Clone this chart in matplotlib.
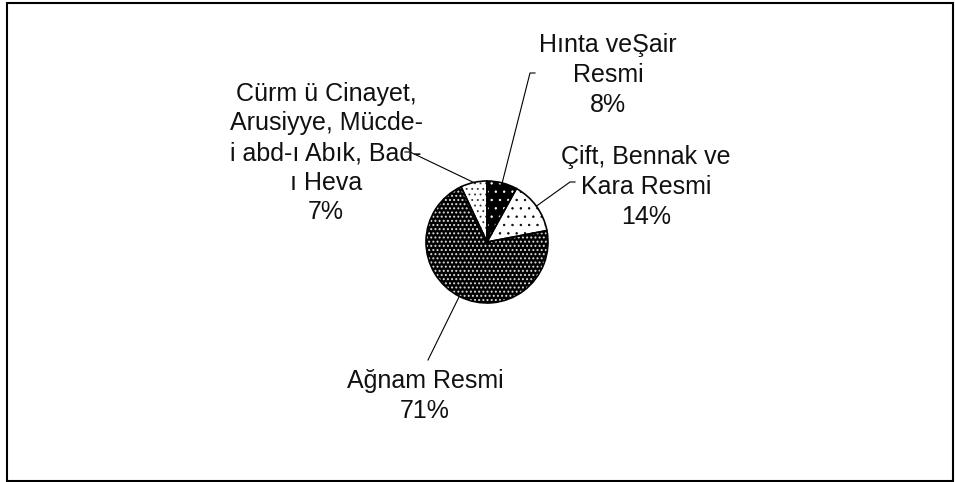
import numpy as np
import matplotlib.pyplot as plt
from matplotlib.patches import Rectangle

plt.rcParams['font.family'] = ['Liberation Sans', 'DejaVu Sans']
plt.rcParams['font.size'] = 18
plt.rcParams['hatch.linewidth'] = 0.5

labels = ['Hınta veŞair\nResmi', 'Çift, Bennak ve\nKara Resmi', 'Ağnam Resmi',
          'Cürm ü Cinayet,\nArusiyye, Mücde-\ni abd-ı Abık, Bad-\nı Heva']
shares = [8, 14, 71, 7]

faces = ['black', 'white', 'black', 'white']
dots = ['white', 'black', '#dddddd', '#333333']
hatches = ['..', '..', '....', '...']
dot_lw = [0.5, 0.5, 0.9, 0.6]

# label centres and leader starts, in pixels from the top-left
label_xy = [(608, 75), (646, 187), (425, 396), (326, 153)]
leader_from = [(530, 73), (570, 182), (428, 360), (410, 152)]
tick_dx = [5, 5, 0, -5]

W, H = 955, 482
fig = plt.figure(figsize=(W / 100, H / 100), dpi=100)
ax = fig.add_axes([0, 0, 1, 1])

cx, cy, r = 487, H - 242, 61

# filled and dotted wedges, hatch colour comes from the edge colour
wedges, _ = ax.pie(shares, center=(cx, cy), radius=r, startangle=90,
                   counterclock=False, frame=True)
for w, fc, dc, h, lw in zip(wedges, faces, dots, hatches, dot_lw):
    w.set_facecolor(fc)
    w.set_edgecolor(dc)
    w.set_hatch(h)
    w.set_linewidth(0)
    if hasattr(w, 'set_hatch_linewidth'):
        w.set_hatch_linewidth(lw)

# outlines on top
ax.pie(shares, center=(cx, cy), radius=r, startangle=90,
       counterclock=False, frame=True,
       wedgeprops=dict(facecolor='none', edgecolor='black', linewidth=1.2))
ax.set_xlim(0, W)
ax.set_ylim(0, H)
ax.set_aspect('equal')
ax.axis('off')

total = sum(shares)
for w, lab, v, (lx, ly), (sx, sy), dx in zip(wedges, labels, shares, label_xy,
                                             leader_from, tick_dx):
    mid = np.deg2rad((w.theta1 + w.theta2) / 2)
    ex, ey = cx + r * np.cos(mid), cy + r * np.sin(mid)
    ax.plot([sx + dx, sx, ex], [H - sy, H - sy, ey], color='black', lw=0.8)
    ax.text(lx, H - ly, f'{lab}\n{round(100 * v / total)}%', ha='center', va='center',
            linespacing=1.3, color='#111111')

fig.patches.append(Rectangle((6.5 / W, 1.5 / H), 946 / W, 478 / H, transform=fig.transFigure,
                             fill=False, edgecolor='black', lw=1.5))

fig.savefig('out.png', dpi=100)
